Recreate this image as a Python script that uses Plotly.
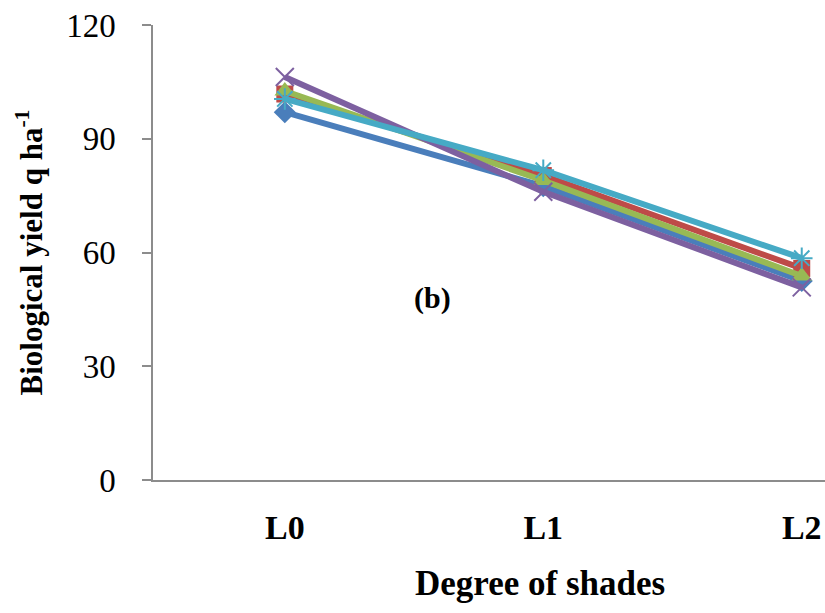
import plotly.graph_objects as go

# Shade levels and biological yield (q/ha) for each treatment series
shades = ["L0", "L1", "L2"]
series_blue = [97, 77.5, 52.5]
series_red = [101.8, 80.3, 55.8]
series_green = [102.6, 79, 53.8]
series_purple = [106.3, 76, 50.8]
series_cyan = [100.5, 81.7, 58.5]

y_ticks = [0, 30, 60, 90, 120]

styles = [
    (series_blue, "#4A7EBB", "diamond", 17),
    (series_red, "#BE4B48", "square", 17),
    (series_green, "#98B954", "triangle-up", 18),
    (series_purple, "#7D60A0", "x-thin", 18),
    (series_cyan, "#46AAC5", "asterisk", 18),
]

fig = go.Figure()
x_idx = list(range(len(shades)))
for values, color, symbol, size in styles:
    thin = symbol in ("x-thin", "asterisk")
    fig.add_trace(go.Scatter(
        x=x_idx, y=values, mode="lines+markers",
        line=dict(color=color, width=6),
        marker=dict(symbol=symbol, size=size, color=color,
                    line=dict(color=color, width=2 if thin else 0)),
        cliponaxis=False, showlegend=False,
    ))

fig.add_annotation(x=0.57, y=48, text="<b>(b)</b>", showarrow=False,
                   font=dict(family="Liberation Serif", size=30, color="black"))

# x-axis title, centred on the full category span (extends past the right edge)
fig.add_annotation(xref="paper", yref="paper", x=0.576, y=-0.228,
                   xanchor="center", yanchor="middle", showarrow=False,
                   text="<b>Degree of shades</b>",
                   font=dict(family="Liberation Serif", size=35, color="black"))

fig.update_layout(
    width=825, height=613,
    margin=dict(l=153, r=0, t=25, b=133),
    paper_bgcolor="white", plot_bgcolor="white",
    font=dict(family="Liberation Serif", color="black"),
    xaxis=dict(
        range=[-0.51, 2.09],
        tickvals=x_idx, ticktext=["<b>%s</b>" % s for s in shades],
        showgrid=False, zeroline=False,
        showline=True, linecolor="#8C8C8C", linewidth=1.5,
        ticks="", tickfont=dict(size=34), ticklabelstandoff=16,
    ),
    yaxis=dict(
        range=[0, 120], tickvals=y_ticks,
        showgrid=False, zeroline=False,
        showline=True, linecolor="#8C8C8C", linewidth=1.5,
        ticks="outside", ticklen=9, tickcolor="#8C8C8C", tickwidth=1.5,
        tickfont=dict(size=33), ticklabelstandoff=20,
        title=dict(text="<b>Biological yield q ha<sup>-1</sup></b>", font=dict(size=31), standoff=14),
    ),
)

fig.write_html("out.html")
